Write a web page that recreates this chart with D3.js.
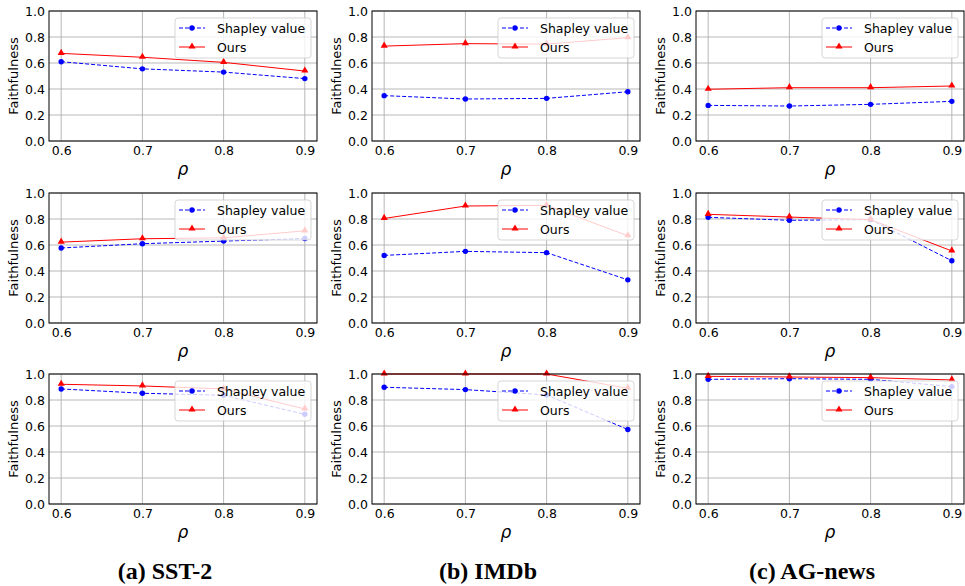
<!DOCTYPE html>
<html>
<head>
<meta charset="utf-8">
<script src="https://cdn.jsdelivr.net/npm/d3@7/dist/d3.min.js"></script>
<style>
  html, body { margin: 0; padding: 0; background: #ffffff; }
  svg { display: block; }
</style>
</head>
<body>
<svg id="fig" width="965" height="586"></svg>
<script>
// Sparsity ratio on the x axis, shared by every panel
const rhos = [0.6, 0.7, 0.8, 0.9];
const yTicks = [0, 0.2, 0.4, 0.6, 0.8, 1.0];
const datasetTitles = ["(a) SST-2", "(b) IMDb", "(c) AG-news"];
const seriesNames = ["Shapley value", "Ours"];

// Faithfulness per dataset; one inner array per model row
const shapleySST2 = [[0.61, 0.555, 0.53, 0.48], [0.577, 0.61, 0.63, 0.65], [0.885, 0.852, 0.836, 0.69]];
const oursSST2    = [[0.674, 0.644, 0.605, 0.538], [0.622, 0.648, 0.655, 0.709], [0.921, 0.908, 0.885, 0.731]];
const shapleyIMDb = [[0.349, 0.323, 0.328, 0.379], [0.52, 0.551, 0.541, 0.332], [0.898, 0.88, 0.839, 0.573]];
const oursIMDb    = [[0.73, 0.749, 0.745, 0.795], [0.804, 0.90, 0.905, 0.671], [1.0, 1.0, 1.0, 0.89]];
const shapleyAG   = [[0.274, 0.269, 0.282, 0.305], [0.813, 0.79, 0.795, 0.479], [0.959, 0.964, 0.959, 0.903]];
const oursAG      = [[0.398, 0.41, 0.41, 0.423], [0.836, 0.815, 0.795, 0.554], [0.982, 0.977, 0.972, 0.954]];

const shapleyByCol = [shapleySST2, shapleyIMDb, shapleyAG];
const oursByCol = [oursSST2, oursIMDb, oursAG];

// Panel geometry
const colLeft = [49, 372, 696];
const rowTop = [11, 193, 374];
const plotW = 268, plotH = 130;

const svg = d3.select("#fig");
const font = "'DejaVu Sans', sans-serif";

const styles = [
  { color: "#0000ff", dash: "4,2", marker: "circle" },
  { color: "#ff0000", dash: null, marker: "triangle" }
];

function drawMarker(g, type, x, y, color) {
  if (type === "circle") {
    g.append("circle").attr("cx", x).attr("cy", y).attr("r", 2.7).attr("fill", color);
  } else {
    const s = d3.symbol().type(d3.symbolTriangle).size(22);
    g.append("path").attr("d", s()).attr("transform", `translate(${x},${y - 0.5})`).attr("fill", color);
  }
}

for (let c = 0; c < 3; c++) {
  for (let r = 0; r < 3; r++) {
    const x0 = colLeft[c], y0 = rowTop[r];
    const g = svg.append("g").attr("transform", `translate(${x0},${y0})`);
    const x = d3.scaleLinear().domain([0.585, 0.915]).range([0, plotW]);
    const y = d3.scaleLinear().domain([0, 1]).range([plotH, 0]);

    // grid
    g.append("g").selectAll("line").data(rhos).join("line")
      .attr("x1", d => x(d)).attr("x2", d => x(d)).attr("y1", 0).attr("y2", plotH)
      .attr("stroke", "#b0b0b0").attr("stroke-width", 0.9);
    g.append("g").selectAll("line").data(yTicks).join("line")
      .attr("x1", 0).attr("x2", plotW).attr("y1", d => y(d)).attr("y2", d => y(d))
      .attr("stroke", "#b0b0b0").attr("stroke-width", 0.9);

    // series
    const seriesVals = [shapleyByCol[c][r], oursByCol[c][r]];
    seriesVals.forEach((vals, i) => {
      const st = styles[i];
      const pts = rhos.map((rho, k) => [x(rho), y(vals[k])]);
      const path = g.append("path").attr("d", d3.line()(pts))
        .attr("fill", "none").attr("stroke", st.color).attr("stroke-width", 1);
      if (st.dash) path.attr("stroke-dasharray", st.dash);
      pts.forEach(p => drawMarker(g, st.marker, p[0], p[1], st.color));
    });

    // axes
    const xAxis = g.append("g").attr("transform", `translate(0,${plotH})`)
      .call(d3.axisBottom(x).tickValues(rhos).tickFormat(d3.format(".1f")).tickSize(0).tickPadding(5));
    const yAxis = g.append("g")
      .call(d3.axisLeft(y).tickValues(yTicks).tickFormat(d3.format(".1f")).tickSize(0).tickPadding(4));
    [xAxis, yAxis].forEach(a => {
      a.select(".domain").remove();
      a.selectAll("text").attr("font-family", font).attr("font-size", 12.5).attr("fill", "#000");
    });

    // spines
    g.append("rect").attr("x", 0).attr("y", 0).attr("width", plotW).attr("height", plotH)
      .attr("fill", "none").attr("stroke", "#000").attr("stroke-width", 1);

    // axis labels
    g.append("text").attr("x", x(0.75)).attr("y", plotH + 34)
      .attr("text-anchor", "middle").attr("font-family", font).attr("font-style", "italic")
      .attr("font-size", 17).text("ρ");
    g.append("text").attr("transform", `translate(${-31},${plotH / 2}) rotate(-90)`)
      .attr("text-anchor", "middle").attr("font-family", font).attr("font-size", 13)
      .text("Faithfulness");

    // legend
    const lw = 136, lh = 40;
    const lg = g.append("g").attr("transform", `translate(${plotW - 6 - lw},7)`);
    lg.append("rect").attr("width", lw).attr("height", lh).attr("rx", 3)
      .attr("fill", "#ffffff").attr("fill-opacity", 0.8)
      .attr("stroke", "#cccccc").attr("stroke-opacity", 0.8).attr("stroke-width", 1);
    seriesNames.forEach((name, i) => {
      const st = styles[i];
      const ly = 10 + i * 19;
      const ln = lg.append("line").attr("x1", 4).attr("x2", 30).attr("y1", ly).attr("y2", ly)
        .attr("stroke", st.color).attr("stroke-width", 1);
      if (st.dash) ln.attr("stroke-dasharray", st.dash);
      drawMarker(lg, st.marker, 17, ly, st.color);
      lg.append("text").attr("x", 42).attr("y", ly + 4.5)
        .attr("font-family", font).attr("font-size", 12.5).attr("fill", "#000").text(name);
    });
  }
  // dataset caption
  svg.append("text").attr("x", colLeft[c] + plotW / 2 - 18).attr("y", 579)
    .attr("text-anchor", "middle").attr("font-family", "'Liberation Serif', 'Times New Roman', serif")
    .attr("font-weight", "bold").attr("font-size", 24).text(datasetTitles[c]);
}
</script>
</body>
</html>
